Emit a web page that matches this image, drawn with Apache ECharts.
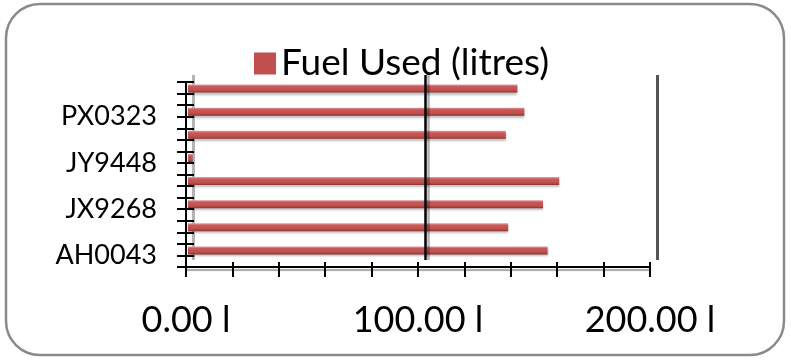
<!DOCTYPE html>
<html>
<head>
<meta charset="utf-8">
<script src="https://cdn.jsdelivr.net/npm/echarts@6/dist/echarts.min.js"></script>
<style>html,body{margin:0;padding:0;background:#fff}#c{width:791px;height:361px}</style>
</head>
<body>
<div id="c"></div>
<script>
// categories bottom -> top (only every other one is labelled in the source)
var categories = ['AH0043', '', 'JX9268', '', 'JY9448', '', 'PX0323', ''];
var fuelUsed = [155, 138, 153, 160, 2, 137, 145, 142];
var seriesName = 'Fuel Used (litres)';
var xTickLabels = ['0.00 l', '100.00 l', '200.00 l'];

var FONT = 'Lato';
var chart = echarts.init(document.getElementById('c'), null, {renderer: 'canvas'});
var W = 464, H = 185;
var option = {
  animation: false,
  backgroundColor: '#fff',
  textStyle: {fontFamily: FONT},
  graphic: [{
    type: 'rect', z: -10,
    shape: {x: 6, y: 4, width: 778, height: 351, r: 34},
    style: {fill: '#fff', stroke: '#8a8a8a', lineWidth: 2.5}
  }],
  legend: {
    left: 249, top: 40, icon: 'rect',
    itemWidth: 22, itemHeight: 22, itemGap: 10,
    itemStyle: {color: '#c0504d', shadowBlur: 0, shadowOffsetY: 0, shadowColor: 'rgba(0,0,0,0)'},
    textStyle: {fontSize: 37, color: '#000', fontFamily: FONT},
    data: [seriesName]
  },
  grid: [
    {left: 186, top: 82, width: W, height: H},   // front
    {left: 193, top: 75, width: W, height: H},   // back wall
    {left: 188, top: 77, width: W, height: H}    // bars
  ],
  xAxis: [
    {
      gridIndex: 0, type: 'value', min: 0, max: 200, interval: 100, z: 5,
      axisLine: {show: true, lineStyle: {color: '#000', width: 2, shadowColor: 'rgba(0,0,0,0.35)', shadowOffsetY: 3, shadowBlur: 1}},
      axisTick: {show: true, length: 10, lineStyle: {color: '#000', width: 2}},
      minorTick: {show: true, splitNumber: 5, length: 10, lineStyle: {color: '#000', width: 2}},
      splitLine: {show: false},
      axisLabel: {
        fontSize: 36, color: '#000', margin: 35, fontFamily: FONT,
        formatter: function (v) { return xTickLabels[Math.round(v / 100)]; }
      }
    },
    {
      gridIndex: 0, type: 'value', min: 0, max: 200, interval: 100, z: 5, position: 'bottom',
      axisLine: {show: false},
      axisTick: {show: true, inside: true, length: 5, lineStyle: {color: '#000', width: 2}},
      minorTick: {show: true, splitNumber: 5, length: 5, lineStyle: {color: '#000', width: 2}},
      splitLine: {show: false}, axisLabel: {show: false}
    },
    {
      gridIndex: 1, type: 'value', min: 0, max: 200, interval: 100, z: 0,
      axisLine: {show: false}, axisTick: {show: false}, axisLabel: {show: false},
      splitLine: {show: true, lineStyle: {color: ['#b4b4b4', 'rgba(0,0,0,0)', '#555'], width: 3}}
    },
    {
      gridIndex: 1, type: 'value', min: 0, max: 200, interval: 100, z: 5,
      axisLine: {show: false}, axisTick: {show: false}, axisLabel: {show: false},
      splitLine: {show: true, lineStyle: {color: ['rgba(0,0,0,0)', '#000', 'rgba(0,0,0,0)'], width: 2.5,
        shadowColor: 'rgba(0,0,0,0.3)', shadowOffsetX: 3}}
    },
    {
      gridIndex: 2, type: 'value', min: 0, max: 200, show: false
    }
  ],
  yAxis: [
    {
      gridIndex: 0, type: 'category', data: categories, z: 5,
      axisLine: {show: true, lineStyle: {color: '#000', width: 2}},
      axisTick: {show: false},
      axisLabel: {interval: 1, fontSize: 27, color: '#000', margin: 29, fontFamily: FONT}
    },
    {
      gridIndex: 0, type: 'value', min: 0, max: 16, interval: 1, position: 'left', z: 5,
      axisLine: {show: false},
      axisTick: {show: true, length: 9, lineStyle: {color: '#000', width: 2}},
      axisLabel: {show: false}, splitLine: {show: false}
    },
    {
      gridIndex: 0, type: 'value', min: 0, max: 16, interval: 1, position: 'left', z: 5,
      axisLine: {show: false},
      axisTick: {show: true, inside: true, length: 8, lineStyle: {color: '#000', width: 2}},
      axisLabel: {show: false}, splitLine: {show: false}
    },
    {
      gridIndex: 1, type: 'category', data: categories, show: false
    },
    {
      gridIndex: 2, type: 'category', data: categories, show: false
    }
  ],
  series: [{
    name: seriesName, type: 'bar', xAxisIndex: 4, yAxisIndex: 4,
    data: fuelUsed, barWidth: 8, z: 3,
    itemStyle: {
      color: {
        type: 'linear', x: 0, y: 0, x2: 0, y2: 1,
        colorStops: [
          {offset: 0, color: '#e0a0a0'},
          {offset: 0.25, color: '#c9585a'},
          {offset: 0.7, color: '#c0504d'},
          {offset: 1, color: '#8a3433'}
        ]
      },
      shadowColor: 'rgba(0,0,0,0.25)', shadowOffsetY: 2, shadowBlur: 2
    }
  }]
};
chart.setOption(option);
</script>
</body>
</html>
